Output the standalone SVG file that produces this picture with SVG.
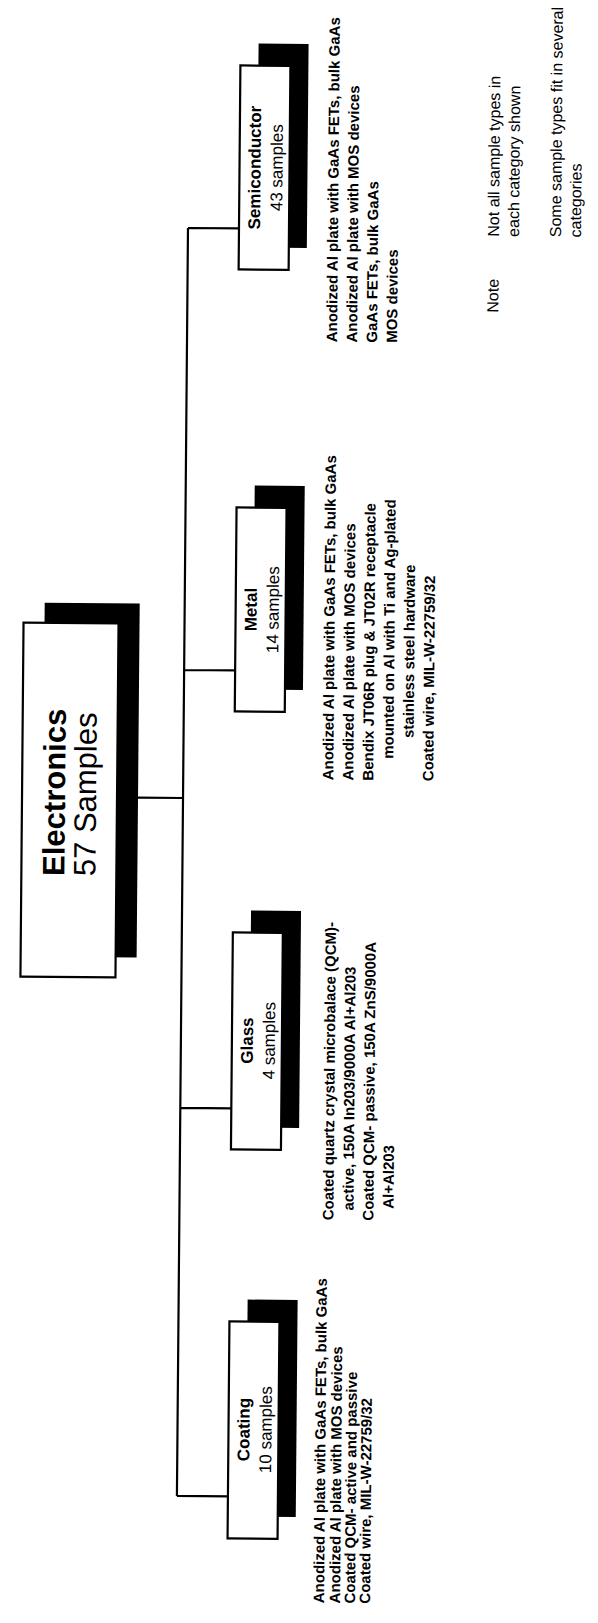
<svg xmlns="http://www.w3.org/2000/svg" width="598" height="1623" viewBox="0 0 598 1623">
<style>
.sh{fill:#000}
.bx{fill:#fff;stroke:#000;stroke-width:2.2}
.ln{stroke:#000;stroke-width:2.2;fill:none}
.t{font-family:"Liberation Sans",Arial,sans-serif;fill:#000}
.big{font-size:31px}
.lab{font-size:17px}
.d{font-size:15px;font-weight:bold}
.n{font-size:16px}
.b{font-weight:bold}
.m{text-anchor:middle}
</style>
<rect width="598" height="1623" fill="#fff"/>
<g transform="rotate(0.5 300 800)">
<g id="connectors">
<path class="ln" d="M183,229 V1497 M183,229 H234 M183,671 H234 M138,799 H183 M183,1109 H234 M183,1497 H234"/>
</g>
<g id="electronics">
<rect class="sh" x="43" y="605" width="95" height="354"/>
<rect class="bx" x="22" y="625" width="95" height="354"/>
<text class="t big b" transform="translate(65,878) rotate(-90)">Electronics</text>
<text class="t big" transform="translate(96,878) rotate(-90)">57 Samples</text>
</g>
<g id="semiconductor">
<rect class="sh" x="252" y="44" width="50" height="204"/>
<rect class="bx" x="234" y="66" width="50" height="204"/>
<text class="t lab b m" transform="translate(255,168) rotate(-90)">Semiconductor</text>
<text class="t lab m" transform="translate(277,168) rotate(-90)">43 samples</text>
<g class="t d" id="semiconductor-desc">
<text transform="translate(333,342) rotate(-90)">Anodized Al plate with GaAs FETs, bulk GaAs</text>
<text transform="translate(353,342) rotate(-90)">Anodized Al plate with MOS devices</text>
<text transform="translate(373,342) rotate(-90)">GaAs FETs, bulk GaAs</text>
<text transform="translate(393,342) rotate(-90)">MOS devices</text>
</g>
</g>
<g id="metal">
<rect class="sh" x="252" y="486" width="50" height="204"/>
<rect class="bx" x="234" y="508" width="50" height="204"/>
<text class="t lab b m" transform="translate(255,610) rotate(-90)">Metal</text>
<text class="t lab m" transform="translate(277,610) rotate(-90)">14 samples</text>
<g class="t d" id="metal-desc">
<text transform="translate(333,780) rotate(-90)">Anodized Al plate with GaAs FETs, bulk GaAs</text>
<text transform="translate(353,780) rotate(-90)">Anodized Al plate with MOS devices</text>
<text transform="translate(373,780) rotate(-90)">Bendix JT06R plug &amp; JT02R receptacle</text>
<text transform="translate(393,758) rotate(-90)">mounted on Al with Ti and Ag-plated</text>
<text transform="translate(413,737) rotate(-90)">stainless steel hardware</text>
<text transform="translate(433,780) rotate(-90)">Coated wire, MIL-W-22759/32</text>
</g>
</g>
<g id="glass">
<rect class="sh" x="252" y="911" width="50" height="217"/>
<rect class="bx" x="234" y="933" width="50" height="217"/>
<text class="t lab b m" transform="translate(255,1041) rotate(-90)">Glass</text>
<text class="t lab m" transform="translate(277,1041) rotate(-90)">4 samples</text>
<g class="t d" id="glass-desc">
<text transform="translate(337,1220) rotate(-90)">Coated quartz crystal microbalace (QCM)-</text>
<text transform="translate(357,1210) rotate(-90)">active, 150A In203/9000A Al+Al203</text>
<text transform="translate(377,1220) rotate(-90)">Coated QCM- passive, 150A ZnS/9000A</text>
<text transform="translate(397,1208) rotate(-90)">Al+Al203</text>
</g>
</g>
<g id="coating">
<rect class="sh" x="252" y="1300" width="50" height="217"/>
<rect class="bx" x="234" y="1322" width="50" height="217"/>
<text class="t lab b m" transform="translate(255,1430) rotate(-90)">Coating</text>
<text class="t lab m" transform="translate(277,1430) rotate(-90)">10 samples</text>
<g class="t d" id="coating-desc">
<text transform="translate(331,1603) rotate(-90)">Anodized Al plate with GaAs FETs, bulk GaAs</text>
<text transform="translate(347,1603) rotate(-90)">Anodized Al plate with MOS devices</text>
<text transform="translate(362,1603) rotate(-90)">Coated QCM- active and passive</text>
<text transform="translate(377,1603) rotate(-90)">Coated wire, MIL-W-22759/32</text>
</g>
</g>
<g id="note" class="t n">
<text transform="translate(494,311) rotate(-90)">Note</text>
<text transform="translate(494,235) rotate(-90)">Not all sample types in</text>
<text transform="translate(514,235) rotate(-90)">each category shown</text>
<text transform="translate(556,235) rotate(-90)">Some sample types fit in several</text>
<text transform="translate(576,235) rotate(-90)">categories</text>
</g>
</g>
</svg>
